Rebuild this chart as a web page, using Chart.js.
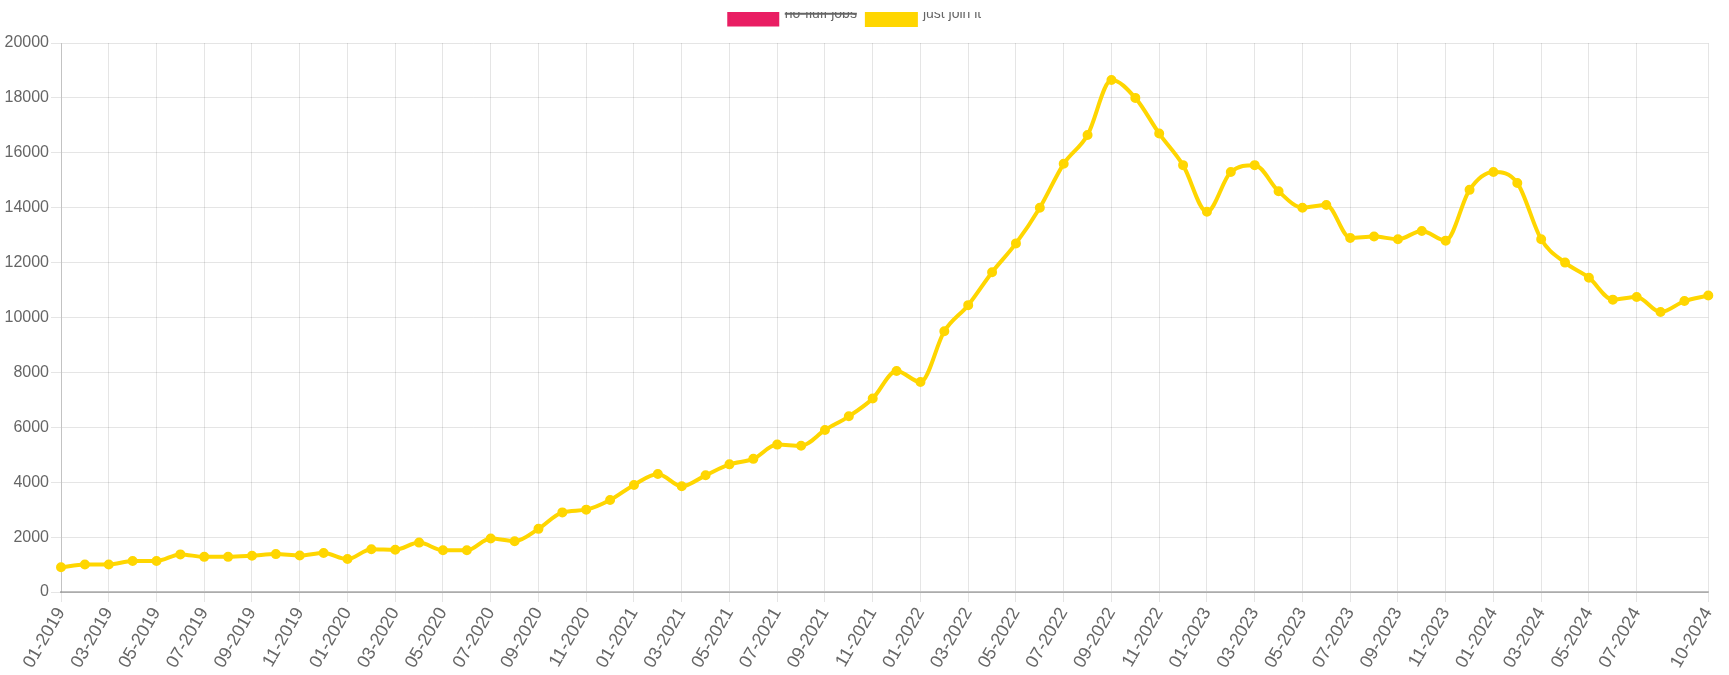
<!DOCTYPE html>
<html lang="en">
  <head>
    <meta charset="UTF-8">
    <title>Offers</title>
    <script src="https://cdn.jsdelivr.net/npm/chart.js"></script>
    <style>
      body{margin: 0; background: #fff; overflow: hidden;}
      #page{width: 1729px; height: 675px; position: relative; overflow: hidden;}
      /* the top of the legend is hidden under the page edge, like in the screenshot */
      #wrap{position: absolute; left: 0; top: 12px; width: 1729px; height: 663px; overflow: hidden;}
      #myChart{display: block; margin-top: -19px;}
    </style>
  </head>
  <body>
    <div id="page">
      <div id="wrap">
        <canvas id="myChart" width="1729" height="682"></canvas>
      </div>
    </div>
    <script>
      // months 01-2019 .. 10-2024
      const months = [
        '01-2019','02-2019','03-2019','04-2019','05-2019','06-2019','07-2019','08-2019','09-2019','10-2019','11-2019','12-2019',
        '01-2020','02-2020','03-2020','04-2020','05-2020','06-2020','07-2020','08-2020','09-2020','10-2020','11-2020','12-2020',
        '01-2021','02-2021','03-2021','04-2021','05-2021','06-2021','07-2021','08-2021','09-2021','10-2021','11-2021','12-2021',
        '01-2022','02-2022','03-2022','04-2022','05-2022','06-2022','07-2022','08-2022','09-2022','10-2022','11-2022','12-2022',
        '01-2023','02-2023','03-2023','04-2023','05-2023','06-2023','07-2023','08-2023','09-2023','10-2023','11-2023','12-2023',
        '01-2024','02-2024','03-2024','04-2024','05-2024','06-2024','07-2024','08-2024','09-2024','10-2024'
      ];
      // which month labels are printed on the axis
      const shownLabels = [
        '01-2019','03-2019','05-2019','07-2019','09-2019','11-2019',
        '01-2020','03-2020','05-2020','07-2020','09-2020','11-2020',
        '01-2021','03-2021','05-2021','07-2021','09-2021','11-2021',
        '01-2022','03-2022','05-2022','07-2022','09-2022','11-2022',
        '01-2023','03-2023','05-2023','07-2023','09-2023','11-2023',
        '01-2024','03-2024','05-2024','07-2024','10-2024'
      ];
      const justJoinIt = [
        900, 1000, 1000, 1130, 1130, 1370, 1280, 1280, 1320, 1380, 1330, 1420,
        1200, 1560, 1540, 1800, 1520, 1520, 1950, 1850, 2300, 2900, 3000, 3350,
        3900, 4300, 3850, 4250, 4650, 4850, 5370, 5330, 5900, 6400, 7050, 8050,
        7650, 9500, 10450, 11650, 12700, 14000, 15600, 16650, 18650, 18000, 16700, 15550,
        13850, 15300, 15550, 14600, 14000, 14100, 12900, 12950, 12850, 13150, 12800, 14650,
        15300, 14900, 12850, 12000, 11450, 10650, 10750, 10200, 10600, 10800
      ];
      // no-fluff jobs series is switched off in the picture
      const noFluffJobs = [];
      const yMin = 0;
      const yMax = 20000;
      const yStep = 2000;

      const narrow = "'Liberation Sans Narrow', 'Arial Narrow', 'Liberation Sans', sans-serif";

      // push the plot a bit lower under the legend
      const legendGap = {
        id: 'legendGap',
        beforeInit(chart){
          const fit = chart.legend.fit;
          chart.legend.fit = function(){
            fit.bind(chart.legend)();
            this.height += 8;
          };
        }
      };

      const ctx = document.getElementById('myChart');
      new Chart(ctx, {
        type: 'line',
        data: {
          labels: months,
          datasets: [{
            label: 'no-fluff jobs',
            data: noFluffJobs,
            backgroundColor: '#E91E63',
            borderColor: '#E91E63',
            hidden: true
          }, {
            label: 'just join it',
            data: justJoinIt,
            backgroundColor: '#FFD600',
            borderColor: '#FFD600',
            pointBackgroundColor: '#FFD600',
            pointBorderColor: '#FFD600',
            borderWidth: 4,
            pointRadius: 3.5,
            pointBorderWidth: 3,
            cubicInterpolationMode: 'monotone',
            fill: false
          }]
        },
        options: {
          responsive: false,
          animation: false,
          devicePixelRatio: 1,
          layout: {padding: {top: 0, right: 19, left: 0, bottom: 0}},
          plugins: {
            legend: {
              labels: {
                color: '#666',
                boxWidth: 49,
                boxHeight: 22,
                padding: 10,
                font: {family: "'Liberation Sans', Arial, sans-serif", size: 14}
              }
            },
            tooltip: {enabled: false}
          },
          scales: {
            x: {
              afterFit: function(scale){ scale.height = 83; },
              grid: {color: 'rgba(0,0,0,0.1)', tickLength: 10},
              border: {color: 'rgba(0,0,0,0.25)', width: 2},
              ticks: {
                autoSkip: false,
                minRotation: 60,
                maxRotation: 60,
                padding: 2,
                color: '#666',
                font: {family: narrow, size: 18},
                callback: function(val){
                  const lab = this.getLabelForValue(val);
                  return shownLabels.includes(lab) ? lab : null;
                }
              }
            },
            y: {
              min: yMin,
              max: yMax,
              afterFit: function(scale){ scale.width = 61; },
              grid: {color: 'rgba(0,0,0,0.1)', tickLength: 10},
              border: {color: 'rgba(0,0,0,0.15)'},
              ticks: {
                stepSize: yStep,
                padding: 2,
                color: '#666',
                font: {family: narrow, size: 16},
                callback: function(val){ return String(val); }
              }
            }
          }
        },
        plugins: [legendGap]
      });
    </script>
  </body>
</html>
